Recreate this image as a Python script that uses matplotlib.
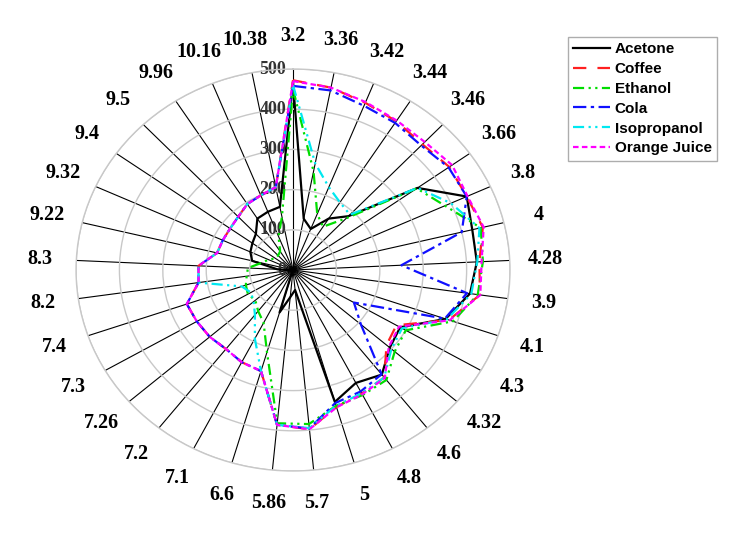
import numpy as np
import matplotlib
matplotlib.use('Agg')
import matplotlib.pyplot as plt
from matplotlib.transforms import offset_copy

labels = ['3.2', '3.36', '3.42', '3.44', '3.46', '3.66', '3.8', '4', '4.28', '3.9',
          '4.1', '4.3', '4.32', '4.6', '4.8', '5', '5.7', '5.86', '6.6', '7.1',
          '7.2', '7.26', '7.3', '7.4', '8.2', '8.3', '9.22', '9.32', '9.4', '9.5',
          '9.96', '10.16', '10.38']

acetone = [465, 130, 110, 152, 185, 352, 440, 425, 424, 412, 372, 285, 295, 331, 316, 342,
           50, 68, 110, 3, 3, 3, 3, 3, 5, 36, 97, 108, 115, 124, 152, 156, 160]
coffee = [472, 462, 448, 440, 432, 442, 440, 450, 430, 435, 380, 275, 285, 340, 346, 355,
          398, 387, 262, 258, 250, 254, 256, 259, 220, 218, 180, 178, 178, 183, 195, 200, 210]
ethanol = [450, 250, 150, 128, 178, 350, 385, 445, 438, 430, 390, 300, 310, 348, 350, 352,
           385, 383, 213, 148, 130, 115, 120, 115, 108, 104, 75, 62, 50, 50, 55, 90, 135]
cola = [458, 455, 440, 435, 428, 440, 440, 400, 250, 405, 370, 162, 207, 330, 340, 345,
        396, 387, 262, 258, 250, 254, 256, 259, 220, 218, 180, 178, 178, 183, 195, 200, 210]
isopropanol = [460, 270, 222, 200, 190, 352, 400, 442, 425, 415, 375, 290, 300, 340, 345, 352,
               395, 387, 262, 192, 142, 120, 112, 125, 220, 218, 180, 178, 178, 183, 195, 200, 210]
orange_juice = [470, 462, 450, 442, 440, 450, 442, 452, 435, 436, 382, 282, 292, 342, 348, 356,
                398, 387, 262, 258, 250, 254, 256, 259, 220, 218, 180, 178, 178, 183, 195, 200, 210]

r_ticks = [0, 100, 200, 300, 400, 500]

series = [
    ('Acetone', acetone, 'black', '-'),
    ('Coffee', coffee, '#ff2020', (0, (6, 5))),
    ('Ethanol', ethanol, '#00dd00', (0, (5, 2, 1, 2, 1, 2))),
    ('Cola', cola, '#1010ff', (0, (6, 2, 1.5, 2))),
    ('Isopropanol', isopropanol, '#00e8f0', (0, (5, 2, 1, 2, 1, 2))),
    ('Orange Juice', orange_juice, '#ff00ff', (0, (2.5, 1.5))),
]

n = len(labels)
angles = np.arange(n) * 2 * np.pi / n

fig = plt.figure(figsize=(7.41, 5.37), dpi=100)
ax = fig.add_axes([0.1026, 0.1229, 0.5857, 0.7486], projection='polar')
ax.set_theta_zero_location('N')
ax.set_theta_direction(-1)
ax.set_aspect('auto')
ax.set_ylim(0, 500)
ax.set_xticks([])
ax.set_yticks(r_ticks[1:])
ax.set_yticklabels([])
ax.yaxis.grid(True, color='#c8c8c8', lw=1.0)
ax.xaxis.grid(False)
ax.spines['polar'].set_color('#c8c8c8')
ax.spines['polar'].set_linewidth(1.0)

# spokes
for a in angles:
    ax.plot([a, a], [0, 500], color='black', lw=0.8, zorder=1)

handles = []
for name, vals, col, ls in series:
    th = np.append(angles, angles[0])
    rr = list(vals) + [vals[0]]
    line, = ax.plot(th, rr, color=col, linestyle=ls, lw=1.6, label=name, zorder=3)
    handles.append(line)

# radial labels, just left of the top spoke
trans = offset_copy(ax.transData, fig=fig, x=-7, y=0, units='dots')
for r in r_ticks:
    ax.text(0, r, str(r), transform=trans, ha='right', va='center', fontsize=13,
            fontweight='bold', family='Liberation Serif', color='#333333', zorder=2)

# category labels
for a, lab in zip(angles, labels):
    ax.text(a, 583, lab, ha='center', va='center', fontsize=14.5, fontweight='bold',
            family='Liberation Serif', clip_on=False)

fig.legend(handles, [s[0] for s in series], loc='upper left',
           bbox_to_anchor=(568 / 741, 1 - 37 / 537), bbox_transform=fig.transFigure,
           frameon=True, fancybox=False, edgecolor='#999999',
           prop={'family': 'Liberation Sans', 'weight': 'bold', 'size': 11},
           handlelength=2.4, labelspacing=0.38, borderpad=0.35, handletextpad=0.3,
           borderaxespad=0)

fig.savefig('out.png', dpi=100)
